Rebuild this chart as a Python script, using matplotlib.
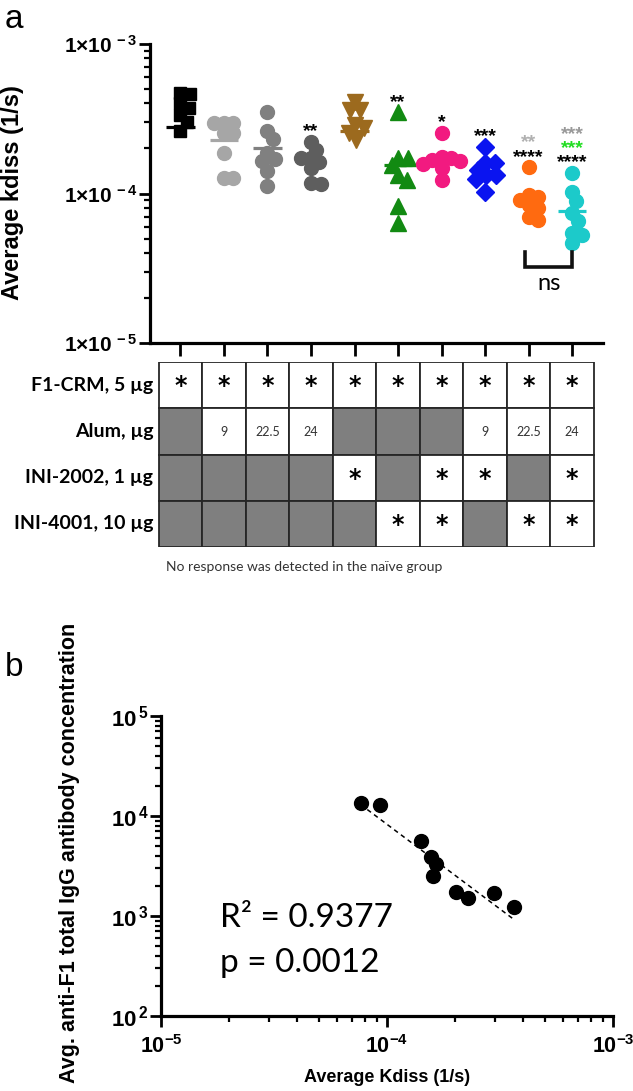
import numpy as np
import matplotlib
matplotlib.use("Agg")
import matplotlib.pyplot as plt
from matplotlib.patches import Rectangle
from matplotlib.ticker import LogLocator, NullFormatter, FixedLocator

plt.rcParams['font.family'] = ['Liberation Sans', 'DejaVu Sans']
plt.rcParams['mathtext.fontset'] = 'custom'
plt.rcParams['mathtext.rm'] = 'Liberation Sans'
plt.rcParams['mathtext.bf'] = 'Liberation Sans:bold'

# ---- panel a: kdiss per group (x1e-4 1/s)
g_black = [4.7, 4.6, 4.05, 3.75, 3.35, 3.0, 2.6]
g_lgrey = [2.97, 2.97, 2.97, 2.55, 2.55, 1.88, 1.26, 1.26]
g_mgrey = [3.52, 2.63, 2.33, 1.88, 1.71, 1.66, 1.42, 1.13]
g_dgrey = [2.21, 1.95, 1.73, 1.73, 1.62, 1.48, 1.18, 1.16]
g_brown = [4.1, 3.62, 3.62, 2.87, 2.74, 2.54, 2.28]
g_green = [3.5, 1.73, 1.73, 1.55, 1.33, 1.23, 0.825, 0.635]
g_pink = [2.54, 1.76, 1.72, 1.68, 1.64, 1.58, 1.48, 1.23]
g_blue = [2.05, 1.6, 1.6, 1.44, 1.33, 1.33, 1.25, 1.02]
g_orange = [1.50, 0.977, 0.947, 0.905, 0.838, 0.80, 0.696, 0.665]
g_cyan = [1.37, 1.02, 0.89, 0.74, 0.655, 0.545, 0.53, 0.466]
groups = [g_black, g_lgrey, g_mgrey, g_dgrey, g_brown, g_green, g_pink, g_blue, g_orange, g_cyan]
center_lines = [2.79, 2.29, 2.0, 1.66, 2.63, 1.55, 1.68, 1.42, 0.92, 0.764]
colors = ['#000000', '#a6a6a6', '#808080', '#5e5e5e', '#9c6a1e', '#128a12',
          '#f21a80', '#0a14f0', '#ff6a10', '#1ccaca']
markers = ['s', 'o', 'o', 'o', 'v', '^', 'o', 'D', 'o', 'o']
msizes = [9, 10, 10, 10, 11.5, 11.5, 10, 9, 10, 10]

# significance marks, listed from bottom to top
stars = {3: [('**', '#000000')],
         5: [('**', '#000000')],
         6: [('*', '#000000')],
         7: [('***', '#000000')],
         8: [('****', '#000000'), ('**', '#b0b0b0')],
         9: [('****', '#000000'), ('***', '#22dd22'), ('***', '#999999')]}

# table under panel a
row_names = ['F1-CRM, 5 µg', 'Alum, µg', 'INI-2002, 1 µg', 'INI-4001, 10 µg']
f1crm = ['*'] * 10
alum = ['', '9', '22.5', '24', '', '', '', '9', '22.5', '24']
ini2002 = ['', '', '', '', '*', '', '*', '*', '', '*']
ini4001 = ['', '', '', '', '', '*', '*', '', '*', '*']
table_rows = [f1crm, alum, ini2002, ini4001]

# ---- panel b
kdiss_mean = [7.64e-5, 9.27e-5, 1.42e-4, 1.56e-4, 1.65e-4, 1.60e-4, 2.01e-4, 2.28e-4, 2.97e-4, 3.66e-4]
igg_conc = [1.34e4, 1.29e4, 5.67e3, 3.92e3, 3.29e3, 2.51e3, 1.75e3, 1.50e3, 1.71e3, 1.24e3]

W, H = 633, 1091
fig = plt.figure(figsize=(W / 100, H / 100), dpi=100)


def fr(l, t, r, b):
    return [l / W, 1 - b / H, (r - l) / W, (b - t) / H]


def style_axes(ax):
    for s in ['top', 'right']:
        ax.spines[s].set_visible(False)
    for s in ['left', 'bottom']:
        ax.spines[s].set_linewidth(2.3)
    ax.tick_params(which='major', direction='out', length=8, width=2, labelsize=15)
    ax.tick_params(which='minor', direction='out', length=4, width=1.6)


ax = fig.add_axes(fr(150, 44, 603, 343))
ax.set_yscale('log')
ax.set_ylim(1e-5, 1e-3)
ax.set_xlim(-0.70, 9.71)
style_axes(ax)
ax.set_xticks(range(10))
ax.set_xticklabels([])
ax.tick_params(axis='x', length=9)
ax.yaxis.set_major_locator(FixedLocator([1e-5, 1e-4, 1e-3]))
ax.set_yticklabels([r'$\mathbf{1{\times}10^{\,-5}}$', r'$\mathbf{1{\times}10^{\,-4}}$',
                    r'$\mathbf{1{\times}10^{\,-3}}$'])
ax.yaxis.set_minor_locator(LogLocator(base=10, subs=np.arange(2, 10)))
ax.yaxis.set_minor_formatter(NullFormatter())
ax.tick_params(axis='y', pad=1)

# pixel scale for the swarm layout
px_x = 453 / (9.71 + 0.70)
px_dec = 299 / 2.0


def swarm(vals, d=9.5):
    ys = np.log10(vals) * px_dec
    order = np.argsort(-ys)
    offs = np.zeros(len(ys))
    placed = []
    for j in order:
        y = ys[j]
        k = 0
        while True:
            cands = [0.0] if k == 0 else [k * 0.5, -k * 0.5]
            ok = None
            for c in cands:
                if all((c - px) ** 2 + (y - py) ** 2 >= d * d for px, py in placed):
                    ok = c
                    break
            if ok is not None:
                offs[j] = ok
                placed.append((ok, y))
                break
            k += 1
    return offs / px_x


for i, g in enumerate(groups):
    v = np.array(g) * 1e-4
    xs = i + swarm(v)
    ax.plot(xs, v, ls='none', marker=markers[i], ms=msizes[i], color=colors[i],
            mec=colors[i], zorder=3, clip_on=False)
    ax.hlines(center_lines[i] * 1e-4, i - 0.33, i + 0.33, color=colors[i], lw=2.3, zorder=4)
    for k, (txt, c) in enumerate(stars.get(i, [])):
        ax.annotate(txt, (i, v.max()), xytext=(0, 4 + 10.3 * k), textcoords='offset points',
                    ha='center', va='baseline', fontsize=14, fontweight='bold', color=c)

# ns bracket between the last two groups
low = min(min(g_orange), min(g_cyan)) * 1e-4
y_top = low / 10 ** (9 / px_dec)
y_bot = low / 10 ** (24 / px_dec)
ax.plot([7.92, 7.92, 9.0, 9.0], [y_top, y_bot, y_bot, y_top], color='#111111', lw=2.6,
        solid_joinstyle='miter', zorder=3)
ax.text(8.46, low / 10 ** (40 / px_dec), 'ns', ha='center', va='center', fontsize=17,
        family=['Lato', 'DejaVu Sans'])

fig.text(13 / W, 1 - 193 / H, 'Average kdiss (1/s)', rotation=90, ha='center', va='center',
         fontsize=17, fontweight='bold')
fig.text(14 / W, 1 - 20 / H, 'a', ha='center', va='center', fontsize=24)

# table
tax = fig.add_axes(fr(150, 362, 603, 547))
tax.set_xlim(-0.70, 9.71)
tax.set_ylim(4, 0)
tax.axis('off')
for r, row in enumerate(table_rows):
    for i, val in enumerate(row):
        fc = 'white' if val else '#7f7f7f'
        tax.add_patch(Rectangle((i - 0.5, r), 1, 1, fc=fc, ec='#262626', lw=1.3))
        if val == '*':
            tax.text(i, r + 0.52, '*', ha='center', va='center', fontsize=17,
                     fontweight='bold', family=['DejaVu Sans'])
        elif val:
            tax.text(i, r + 0.52, val, ha='center', va='center', fontsize=9,
                     family=['Lato', 'DejaVu Sans'], color='#333333')
    tax.text(-0.62, r + 0.5, row_names[r], ha='right', va='center', fontsize=14,
             fontweight='bold', family=['Lato', 'DejaVu Sans'])
fig.text(166 / W, 1 - 567 / H, 'No response was detected in the naïve group', ha='left',
         va='center', fontsize=10, family=['Lato', 'DejaVu Sans'], color='#333333')

# ---- panel b
bx = fig.add_axes(fr(161, 716, 613, 1016))
bx.set_xscale('log')
bx.set_yscale('log')
bx.set_xlim(1e-5, 1e-3)
bx.set_ylim(1e2, 1e5)
style_axes(bx)
bx.xaxis.set_major_locator(FixedLocator([1e-5, 1e-4, 1e-3]))
bx.set_xticklabels([r'$\mathbf{10^{-5}}$', r'$\mathbf{10^{-4}}$', r'$\mathbf{10^{-3}}$'])
bx.yaxis.set_major_locator(FixedLocator([1e2, 1e3, 1e4, 1e5]))
bx.set_yticklabels([r'$\mathbf{10^{\,2}}$', r'$\mathbf{10^{\,3}}$', r'$\mathbf{10^{\,4}}$',
                    r'$\mathbf{10^{\,5}}$'])
for a in (bx.xaxis, bx.yaxis):
    a.set_minor_locator(LogLocator(base=10, subs=np.arange(2, 10)))
    a.set_minor_formatter(NullFormatter())
bx.tick_params(which='major', labelsize=16)
bx.tick_params(axis='x', pad=6, labelsize=15.5)
bx.tick_params(axis='y', pad=1)

lx, ly = np.log10(kdiss_mean), np.log10(igg_conc)
slope, icpt = np.polyfit(lx, ly, 1)
fx = np.array([lx.min(), lx.max()])
bx.plot(10 ** fx, 10 ** (icpt + slope * fx), ls=(0, (3, 2.5)), color='black', lw=1.1)
bx.plot(kdiss_mean, igg_conc, 'o', color='black', ms=10, zorder=3)

fig.text(220 / W, 1 - 918 / H, 'R² = 0.9377', ha='left', va='center', fontsize=24,
         family=['Lato', 'DejaVu Sans'])
fig.text(220 / W, 1 - 963 / H, 'p = 0.0012', ha='left', va='center', fontsize=24,
         family=['Lato', 'DejaVu Sans'])
fig.text(387 / W, 1 - 1077 / H, 'Average Kdiss (1/s)', ha='center', va='center',
         fontsize=13, fontweight='bold')
fig.text(70 / W, 1 - 853 / H, 'Avg. anti-F1 total IgG antibody concentration', rotation=90,
         ha='center', va='center', fontsize=15.5, fontweight='bold')
fig.text(14 / W, 1 - 667 / H, 'b', ha='center', va='center', fontsize=24)

fig.savefig('out.png', dpi=100)
